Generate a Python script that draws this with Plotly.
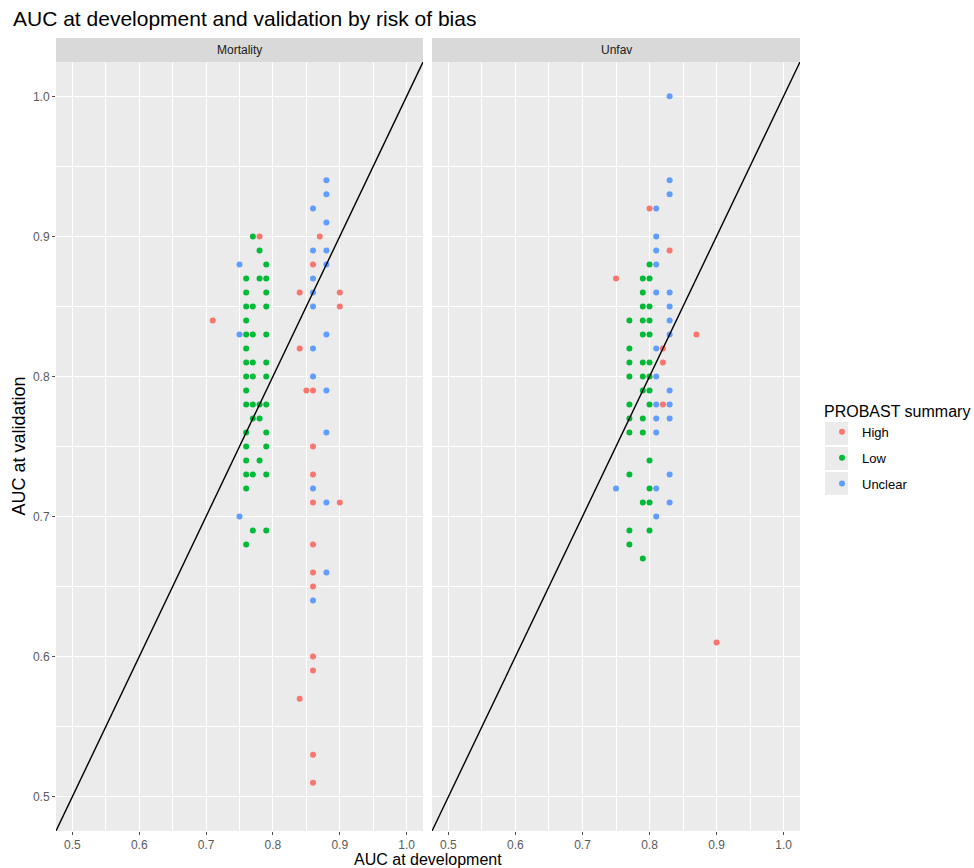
import plotly.graph_objects as go
from plotly.subplots import make_subplots

# ---- data -------------------------------------------------------------
panels = ["Mortality", "Unfav"]
groups = ["High", "Low", "Unclear"]
colors = {"High": "#F8766D", "Low": "#00BA38", "Unclear": "#619CFF"}

mort_high_dev = [0.78, 0.71, 0.84, 0.84, 0.85, 0.87, 0.86, 0.90, 0.90, 0.86, 0.86,
                 0.86, 0.86, 0.90, 0.86, 0.86, 0.86, 0.86, 0.86, 0.84, 0.86, 0.86]
mort_high_val = [0.90, 0.84, 0.86, 0.82, 0.79, 0.90, 0.88, 0.86, 0.85, 0.79, 0.75,
                 0.73, 0.71, 0.71, 0.68, 0.66, 0.65, 0.60, 0.59, 0.57, 0.53, 0.51]

mort_low_dev = [0.77, 0.78, 0.79, 0.76, 0.78, 0.79, 0.76, 0.79, 0.76, 0.77, 0.79,
                0.76, 0.76, 0.77, 0.79, 0.76, 0.76, 0.77, 0.79, 0.76, 0.77, 0.79,
                0.76, 0.76, 0.77, 0.78, 0.79, 0.77, 0.78, 0.76, 0.79, 0.76, 0.79,
                0.76, 0.78, 0.76, 0.77, 0.79, 0.76, 0.77, 0.79, 0.76]
mort_low_val = [0.90, 0.89, 0.88, 0.87, 0.87, 0.87, 0.86, 0.86, 0.85, 0.85, 0.85,
                0.84, 0.83, 0.83, 0.83, 0.82, 0.81, 0.81, 0.81, 0.80, 0.80, 0.80,
                0.79, 0.78, 0.78, 0.78, 0.78, 0.77, 0.77, 0.76, 0.76, 0.75, 0.75,
                0.74, 0.74, 0.73, 0.73, 0.73, 0.72, 0.69, 0.69, 0.68]

mort_unc_dev = [0.75, 0.75, 0.75, 0.88, 0.88, 0.86, 0.88, 0.86, 0.88, 0.88, 0.86,
                0.86, 0.86, 0.88, 0.86, 0.86, 0.88, 0.88, 0.86, 0.88, 0.88, 0.86]
mort_unc_val = [0.88, 0.83, 0.70, 0.94, 0.93, 0.92, 0.91, 0.89, 0.89, 0.88, 0.87,
                0.86, 0.85, 0.83, 0.82, 0.80, 0.79, 0.76, 0.72, 0.71, 0.66, 0.64]

unf_high_dev = [0.80, 0.83, 0.75, 0.87, 0.82, 0.82, 0.82, 0.90]
unf_high_val = [0.92, 0.89, 0.87, 0.83, 0.82, 0.81, 0.78, 0.61]

unf_low_dev = [0.80, 0.79, 0.80, 0.79, 0.79, 0.80, 0.77, 0.79, 0.80, 0.79, 0.80,
               0.77, 0.77, 0.79, 0.80, 0.77, 0.79, 0.80, 0.79, 0.80, 0.77, 0.80,
               0.77, 0.79, 0.77, 0.79, 0.80, 0.77, 0.80, 0.79, 0.80, 0.77, 0.80,
               0.77, 0.79]
unf_low_val = [0.88, 0.87, 0.87, 0.86, 0.85, 0.85, 0.84, 0.84, 0.84, 0.83, 0.83,
               0.82, 0.81, 0.81, 0.81, 0.80, 0.80, 0.80, 0.79, 0.79, 0.78, 0.78,
               0.77, 0.77, 0.76, 0.76, 0.74, 0.73, 0.72, 0.71, 0.71, 0.69, 0.69,
               0.68, 0.67]

unf_unc_dev = [0.83, 0.83, 0.83, 0.81, 0.81, 0.81, 0.81, 0.81, 0.83, 0.83, 0.83,
               0.83, 0.81, 0.81, 0.83, 0.81, 0.83, 0.81, 0.83, 0.81, 0.83, 0.75,
               0.81, 0.83, 0.81]
unf_unc_val = [1.00, 0.94, 0.93, 0.92, 0.90, 0.89, 0.88, 0.86, 0.86, 0.85, 0.84,
               0.83, 0.82, 0.80, 0.79, 0.78, 0.78, 0.77, 0.77, 0.76, 0.73, 0.72,
               0.72, 0.71, 0.70]

series = {
    "Mortality": {"High": (mort_high_dev, mort_high_val),
                  "Low": (mort_low_dev, mort_low_val),
                  "Unclear": (mort_unc_dev, mort_unc_val)},
    "Unfav": {"High": (unf_high_dev, unf_high_val),
              "Low": (unf_low_dev, unf_low_val),
              "Unclear": (unf_unc_dev, unf_unc_val)},
}

axis_range = [0.4755, 1.0245]
tick_vals = [0.5, 0.6, 0.7, 0.8, 0.9, 1.0]
tick_text = ["0.5", "0.6", "0.7", "0.8", "0.9", "1.0"]

FONT = "Liberation Sans, Arial"

# ---- figure -----------------------------------------------------------
W, H = 974, 868
ml, mr, mt, mb = 56, 174, 62, 37
pw, ph = W - ml - mr, H - mt - mb


def px_x(p):
    return (p - ml) / pw


def px_y(p):
    return (H - mb - p) / ph


fig = make_subplots(rows=1, cols=2, shared_yaxes=True, horizontal_spacing=0.012)

for ci, panel in enumerate(panels, start=1):
    for g in groups:
        xs, ys = series[panel][g]
        fig.add_trace(go.Scatter(
            x=xs, y=ys, mode="markers", name=g, legendgroup=g,
            showlegend=(ci == 1),
            marker=dict(color=colors[g], size=6, line=dict(width=0)),
        ), row=1, col=ci)
    # identity line y = x spanning the panel
    fig.add_trace(go.Scatter(
        x=axis_range, y=axis_range, mode="lines", showlegend=False,
        line=dict(color="black", width=1.4), hoverinfo="skip",
    ), row=1, col=ci)

minor = dict(dtick=0.05, showgrid=True, gridcolor="white", gridwidth=0.6, ticks="")
axis_common = dict(range=axis_range, tickvals=tick_vals, ticktext=tick_text,
                   ticks="outside", ticklen=3, tickcolor="#4d4d4d", tickwidth=1,
                   tickfont=dict(family=FONT, size=12, color="#5a5a5a"),
                   zeroline=False, showline=False, minor=minor,
                   showgrid=True, gridcolor="white", gridwidth=1.3)

d1 = [0, px_x(423)]
d2 = [px_x(432), 1]
fig.update_xaxes(domain=d1, row=1, col=1, **axis_common)
fig.update_xaxes(domain=d2, row=1, col=2, **axis_common)
fig.update_yaxes(row=1, col=1, **axis_common)
fig.update_yaxes(row=1, col=2, **axis_common)
fig.update_yaxes(row=1, col=2, showticklabels=False, ticks="")

# facet strips
shapes = []
annotations = []
for dom, panel in zip([d1, d2], panels):
    shapes.append(dict(type="rect", xref="paper", yref="paper",
                       x0=dom[0], x1=dom[1], y0=1, y1=px_y(38),
                       fillcolor="#d9d9d9", line=dict(width=0), layer="below"))
    annotations.append(dict(text=panel, xref="paper", yref="paper",
                            x=(dom[0] + dom[1]) / 2, y=(1 + px_y(38)) / 2,
                            showarrow=False, xanchor="center", yanchor="middle",
                            font=dict(family=FONT, size=12, color="#1a1a1a")))

# axis titles
annotations.append(dict(text="AUC at development", xref="paper", yref="paper",
                        x=0.5, y=px_y(859), showarrow=False, borderpad=0,
                        xanchor="center", yanchor="middle",
                        font=dict(family=FONT, size=16, color="black")))
annotations.append(dict(text="AUC at validation", xref="paper", yref="paper",
                        x=px_x(18), y=0.5, showarrow=False, textangle=-90,
                        xanchor="center", yanchor="middle",
                        font=dict(family=FONT, size=18, color="black")))

# grey key backgrounds behind the legend symbols
for top in (422, 447, 472):
    shapes.append(dict(type="rect", xref="paper", yref="paper",
                       x0=px_x(825), x1=px_x(848), y0=px_y(top + 23), y1=px_y(top),
                       fillcolor="#ebebeb", line=dict(width=0)))

fig.update_layout(
    width=W, height=H,
    margin=dict(l=ml, r=mr, t=mt, b=mb, autoexpand=False),
    paper_bgcolor="white",
    plot_bgcolor="#ebebeb",
    title=dict(text="AUC at development and validation by risk of bias",
               x=13 / W, xanchor="left", y=1 - 19 / H, yanchor="middle",
               font=dict(family=FONT, size=21, color="black")),
    legend=dict(
        title=dict(text="PROBAST summary",
                   font=dict(family=FONT, size=16, color="black")),
        x=px_x(822), xanchor="left", y=px_y(396), yanchor="top",
        bgcolor="rgba(0,0,0,0)", tracegroupgap=6,
        font=dict(family=FONT, size=13, color="black"),
    ),
    shapes=shapes,
    annotations=annotations,
)

fig.write_html("out.html")
